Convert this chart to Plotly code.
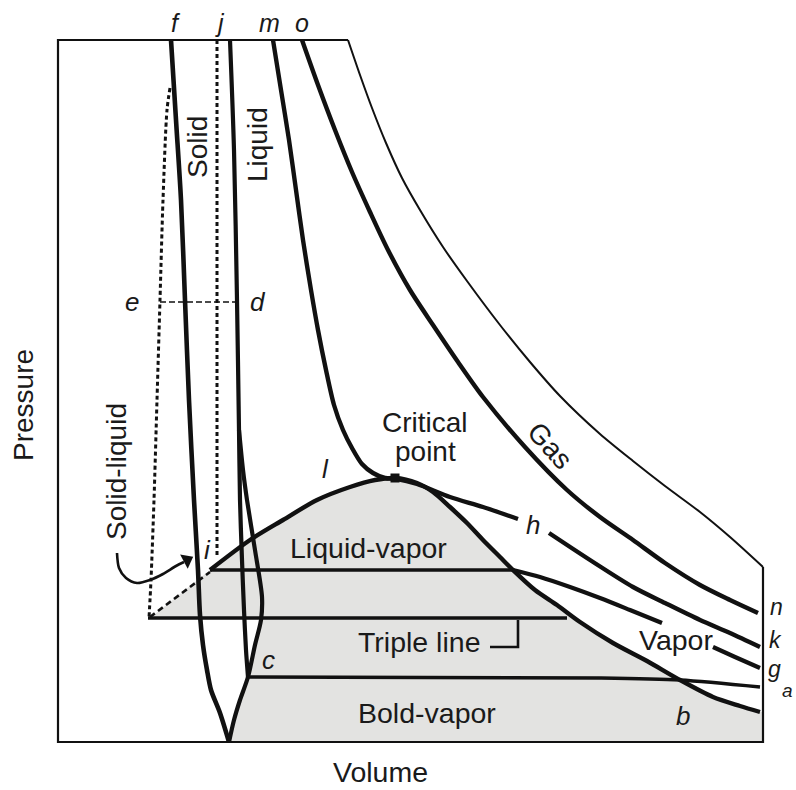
import numpy as np
import plotly.graph_objects as go

# ---- data (volume = px from left, pressure = px from top of image; converted below) ----
outer_v = [763, 763, 58, 58, 348, 360, 372, 386, 402, 420, 443, 467, 500, 530, 560, 600, 633, 665, 700, 730, 763]
outer_p = [567, 742, 742, 40, 40, 75, 108, 143, 178, 210, 247, 281, 325, 362, 396, 434, 461, 486, 512, 537, 567]

o_v = [302, 318, 335, 352, 370, 388, 410, 433, 458, 483, 525, 567, 600, 633, 665, 700, 730, 758]
o_p = [40, 85, 130, 172, 212, 250, 290, 325, 362, 397, 447, 490, 517, 540, 563, 585, 600, 613]

m1_v = [273, 281, 289, 296, 303, 311, 318, 326, 334, 343, 352, 362, 373, 385, 397, 417, 450, 483, 518]
m1_p = [40, 90, 140, 190, 240, 290, 330, 370, 405, 430, 448, 464, 473, 478, 479, 484, 497, 507, 519]
m2_v = [549, 590, 633, 665, 700, 730, 760]
m2_p = [533, 560, 587, 603, 620, 633, 647]

dome_v = [210, 250, 283, 317, 350, 375, 395, 417, 433, 450, 467, 483, 500, 513, 535, 557, 580, 613, 647, 680, 713, 740, 760]
dome_p = [570, 540, 520, 500, 487, 480, 478, 483, 492, 507, 523, 540, 557, 570, 590, 605, 622, 643, 661, 680, 697, 706, 712]

f_v = [171, 176, 181, 185, 189, 194, 198, 200, 203, 207, 211, 220, 229]
f_p = [40, 120, 200, 300, 400, 500, 570, 615, 645, 670, 690, 713, 742]

liq_v = [230, 234, 237, 239, 240, 242, 244, 246, 248]
liq_p = [40, 150, 300, 430, 500, 560, 610, 650, 677]

bulge_v = [239, 243, 247, 255, 262, 261, 255, 248, 240, 234, 229]
bulge_p = [430, 470, 500, 550, 597, 620, 645, 677, 700, 720, 742]

e_v = [170, 167, 163, 160, 157, 154, 151, 149]
e_p = [88, 110, 200, 300, 400, 500, 580, 618]
j_v = [217, 217]
j_p = [40, 557]
ed_v = [160, 238]
ed_p = [302, 302]
slant_v = [150, 210]
slant_p = [617, 572]

lv_v = [210, 513]
lv_p = [570, 570]
triple_v = [148, 567]
triple_p = [618, 618]
bv_v = [248, 600, 680, 760]
bv_p = [677, 678, 680, 687]
g1_v = [513, 540, 570, 600, 630, 662]
g1_p = [570, 577, 587, 598, 610, 623]
g2_v = [713, 735, 760]
g2_p = [647, 657, 668]
bracket_v = [490, 518, 518]
bracket_p = [647, 647, 620]
hook_v = [117, 119, 126, 137, 150, 163, 176, 184]
hook_p = [553, 568, 578, 583, 580, 574, 566, 562]
arrow_v = [187]
arrow_p = [560]

cp_v = [395]
cp_p = [478]

# shaded two-phase region
shade_v = [229, 763, 763] + dome_v[::-1] + [150, 260, 255, 248, 240, 234, 229]
shade_p = [742, 742, 712] + dome_p[::-1] + [618, 618, 645, 677, 700, 720, 742]

X0, Y0 = 58, 742


def V(a):
    return [x - X0 for x in a]


def P(a):
    return [Y0 - y for y in a]


fig = go.Figure()
fig.add_trace(go.Scatter(x=V(shade_v), y=P(shade_p), fill="toself", fillcolor="#e3e3e1",
                         line=dict(width=0), mode="lines", hoverinfo="skip"))

INK = "#111111"


def line(vv, pp, w=4.4, dash=None, shape="spline"):
    fig.add_trace(go.Scatter(x=V(vv), y=P(pp), mode="lines",
                             line=dict(color=INK, width=w, dash=dash, shape=shape, smoothing=0.8),
                             hoverinfo="skip"))


line(outer_v[:5], outer_p[:5], w=2.2, shape="linear")
line(outer_v[4:], outer_p[4:], w=2.0)
line(o_v, o_p)
line(m1_v, m1_p)
line(m2_v, m2_p)
line(dome_v, dome_p)
line(f_v, f_p, w=4.6)
line(liq_v, liq_p, w=4.2)
line(bulge_v, bulge_p, w=4.2)
line(e_v, e_p, w=3, dash="4px,3px")
line(j_v, j_p, w=3, dash="4px,3px", shape="linear")
line(ed_v, ed_p, w=1.6, dash="6px,3px", shape="linear")
line(slant_v, slant_p, w=2.6, dash="6px,4px", shape="linear")
line(lv_v, lv_p, w=3.6, shape="linear")
line(triple_v, triple_p, w=3.6, shape="linear")
line(bv_v, bv_p, w=3.6)
line(g1_v, g1_p, w=4.2)
line(g2_v, g2_p, w=4.2)
line(bracket_v, bracket_p, w=2.6, shape="linear")
line(hook_v, hook_p, w=2.6)

# arrow head of the solid-liquid pointer
fig.add_trace(go.Scatter(x=V(arrow_v), y=P(arrow_p), mode="markers",
                         marker=dict(symbol="triangle-right", size=14, angle=-28, color=INK,
                                     line=dict(width=0)), hoverinfo="skip"))

fig.add_trace(go.Scatter(x=V(cp_v), y=P(cp_p), mode="markers",
                         marker=dict(symbol="square", size=9, color=INK), hoverinfo="skip"))

FONT = "Liberation Sans, Arial, sans-serif"
TXT = "#1a1a1a"

labels = [
    ("<i>f</i>", 176, 23, 0, 25), ("<i>j</i>", 220, 23, 0, 25), ("<i>m</i>", 269, 23, 0, 25),
    ("<i>o</i>", 302, 23, 0, 25),
    ("Solid", 197, 147, -90, 28), ("Liquid", 257, 145, -90, 28),
    ("<i>e</i>", 132, 302, 0, 26), ("<i>d</i>", 258, 302, 0, 26),
    ("Pressure", 23, 405, -90, 28), ("Solid-liquid", 116, 472, -90, 28),
    ("Critical", 425, 422, 0, 28), ("point", 425, 451, 0, 28),
    ("<i>l</i>", 325, 469, 0, 26), ("<i>h</i>", 533, 525, 0, 26),
    ("Gas", 550, 445, 48, 28),
    ("<i>i</i>", 207, 550, 0, 26),
    ("Liquid-vapor", 368, 548, 0, 28.5),
    ("Triple line", 419, 642, 0, 28.5),
    ("<i>c</i>", 268, 660, 0, 26),
    ("Vapor", 676, 640, 0, 28.5),
    ("Bold-vapor", 427, 713, 0, 28.5),
    ("<i>b</i>", 683, 716, 0, 26),
    ("<i>n</i>", 776, 607, 0, 23), ("<i>k</i>", 775, 640, 0, 23),
    ("<i>g</i>", 774, 669, 0, 23), ("<i>a</i>", 787, 690, 0, 19),
    ("Volume", 380, 772, 0, 28.5),
]
for text, px, py, ang, size in labels:
    fig.add_annotation(x=px - X0, y=Y0 - py, text=text, showarrow=False, textangle=ang,
                       font=dict(family=FONT, size=size, color=TXT), xref="x", yref="y",
                       xanchor="center", yanchor="middle", borderpad=0)

W, H = 796, 790
fig.update_layout(
    width=W, height=H, margin=dict(l=0, r=0, t=0, b=0),
    paper_bgcolor="white", plot_bgcolor="white", showlegend=False,
    xaxis=dict(range=[-X0, W - X0], visible=False, fixedrange=True),
    yaxis=dict(range=[Y0 - H, Y0], visible=False, fixedrange=True),
)
fig.write_html("out.html", config={"displayModeBar": False},
               post_script="document.body.style.margin='0px';document.body.style.overflow='hidden';")
